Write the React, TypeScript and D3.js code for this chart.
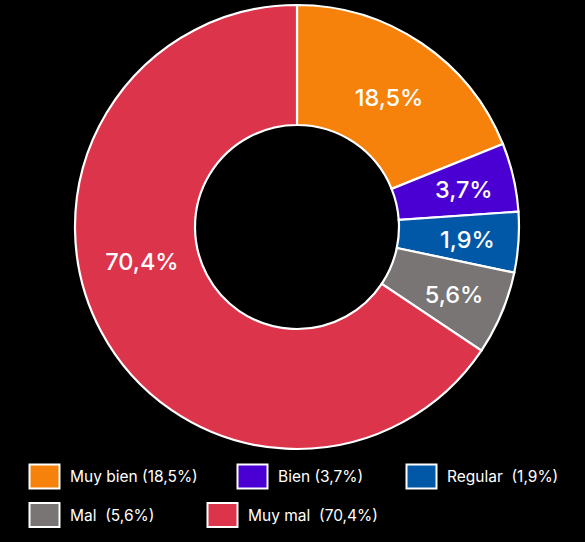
import React from "react";
import * as d3 from "d3";

const categories = ["Muy bien", "Bien", "Regular", "Mal", "Muy mal"];
const values = [18.5, 3.7, 1.9, 5.6, 70.4];
// slice shares as drawn in the picture (the chart enlarges small slices)
const drawnShares = [18.9, 5.0, 4.4, 6.1, 65.6];
const sliceLabels = ["18,5%", "3,7%", "1,9%", "5,6%", "70,4%"];
const legendLabels = ["Muy bien (18,5%)", "Bien (3,7%)", "Regular  (1,9%)", "Mal  (5,6%)", "Muy mal  (70,4%)"];
const colors = ["#F6820B", "#4A00D2", "#0058A6", "#787574", "#DC344B"];

const W = 585, H = 542;
const cx = 297, cy = 227, outerR = 222, innerR = 102;
const legendPos = [
  [29.5, 464.5], [237.5, 464.5], [406.5, 464.5],
  [29.5, 503], [207.5, 503],
];

export default function App() {
  const pie = d3.pie<number>().sort(null).value((d) => d);
  const arcs = pie(drawnShares);
  const arc = d3.arc<d3.PieArcDatum<number>>().innerRadius(innerR).outerRadius(outerR);
  const font = "Inter, 'Noto Sans', sans-serif";
  const labelPos = (a: d3.PieArcDatum<number>, i: number) => {
    const big = a.endAngle - a.startAngle > 1;
    const frac = i === 4 ? 0.565 : 0.52;
    const ang = a.startAngle + frac * (a.endAngle - a.startAngle);
    const r = big ? 159 : 171;
    return [r * Math.sin(ang), -r * Math.cos(ang)];
  };
  return (
    <svg width={W} height={H} style={{ position: "absolute", left: 0, top: 0, background: "#000" }}>
      <rect width={W} height={H} fill="#000" />
      <g transform={`translate(${cx},${cy})`}>
        {arcs.map((a, i) => (
          <path key={i} d={arc(a) || ""} fill={colors[i]} stroke="#fff" strokeWidth={2.2} />
        ))}
        {arcs.map((a, i) => {
          const [x, y] = labelPos(a, i);
          return (
            <text key={i} x={x} y={y} dy="0.36em" textAnchor="middle" fill="#fff" fontFamily={font} fontSize={23.5} fontWeight={500} data-value={values[i]}>
              {sliceLabels[i]}
            </text>
          );
        })}
      </g>
      {categories.map((c, i) => (
        <g key={c} transform={`translate(${legendPos[i][0]},${legendPos[i][1]})`}>
          <rect x={0} y={0} width={30} height={24} fill={colors[i]} stroke="#fff" strokeWidth={2} />
          <text x={40.5} y={12} dy="0.36em" fill="#fff" fontFamily={font} fontSize={15.5} style={{ whiteSpace: "pre" }}>
            {legendLabels[i]}
          </text>
        </g>
      ))}
    </svg>
  );
}
